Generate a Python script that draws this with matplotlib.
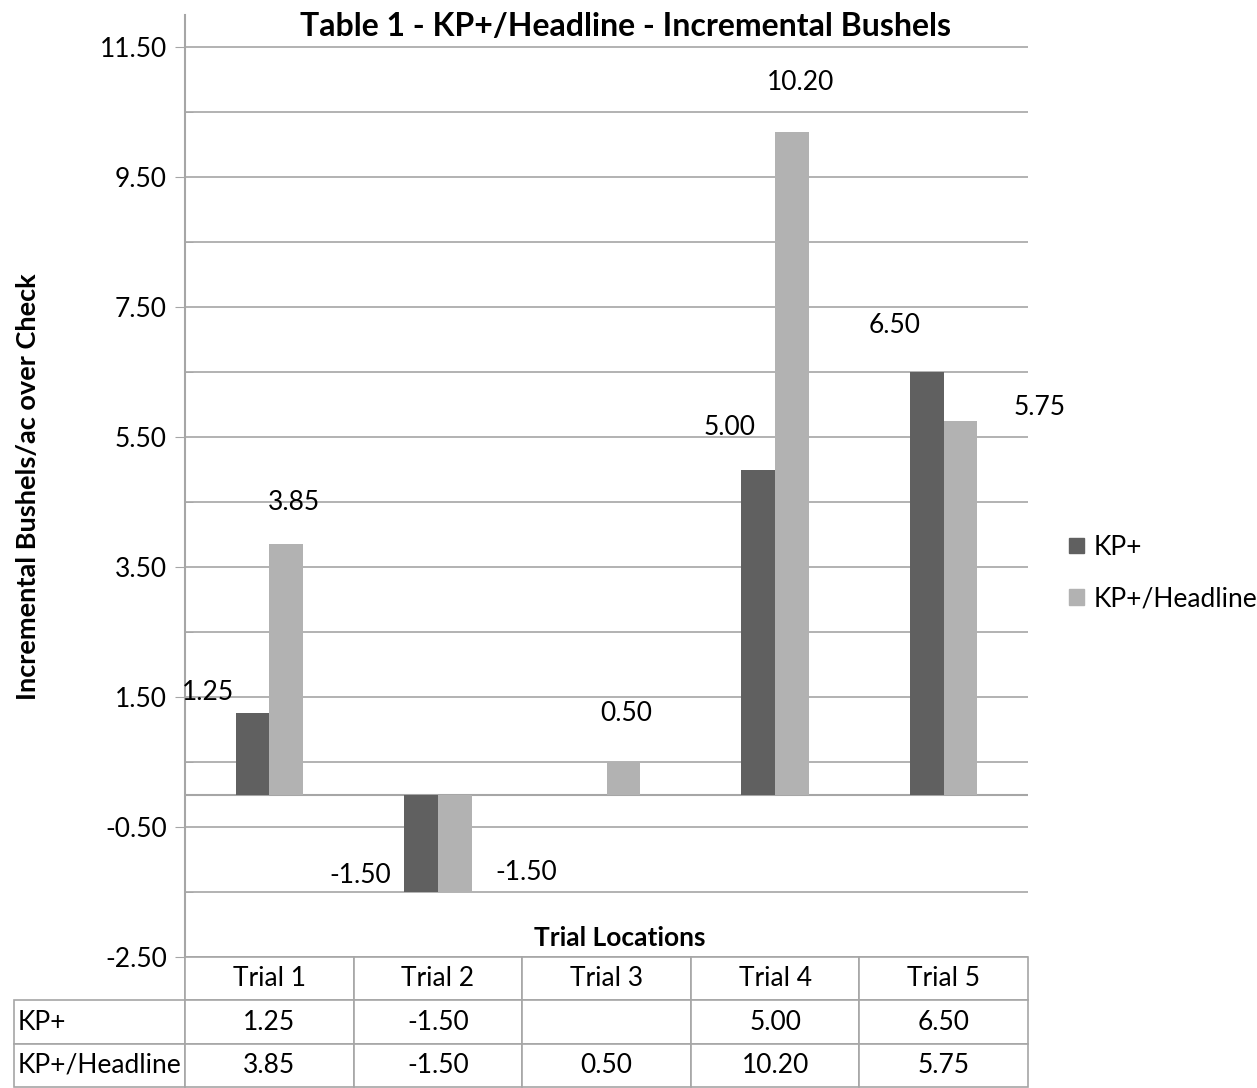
import numpy as np
import matplotlib
matplotlib.use('Agg')
import matplotlib.pyplot as plt
from matplotlib.patches import Patch

### Data ###
#
trials = ['Trial 1', 'Trial 2', 'Trial 3', 'Trial 4', 'Trial 5']
kp = [1.25, -1.50, np.nan, 5.00, 6.50]
kp_headline = [3.85, -1.50, 0.50, 10.20, 5.75]
series_names = ['KP+', 'KP+/Headline']

# label offsets (pixels) mimicking Excel's placement
kp_offsets = [(-44, 21), (-61, 17), (0, 0), (-29, 42), (-32, 47)]
hl_offsets = [(8, 42), (71, 20), (3, 49), (9, 49), (79, 14)]

dark = '#606060'
light = '#b2b2b2'
gridc = '#a6a6a6'
font = 'Lato'
fs = 19

plt.rcParams['font.family'] = [font, 'DejaVu Sans']

W, H = 1257, 1088
fig = plt.figure(figsize=(W/100, H/100), dpi=100)

def fx(px):
    return px/W
def fy(py):
    return 1 - py/H

left, right, top, bot = 185, 1028, 15, 957
ax = fig.add_axes([fx(left), fy(bot), fx(right-left), fy(top)-fy(bot)])

x = np.arange(len(trials))
bw = 0.2
ax.bar(x - bw/2, kp, bw, color=dark, zorder=3)
ax.bar(x + bw/2, kp_headline, bw, color=light, zorder=3)

ax.set_xlim(-0.5, len(trials)-0.5)
ax.set_ylim(-2.5, 12.0)

major = np.arange(-2.5, 11.51, 2.0)
minor = np.arange(-1.5, 11.0, 2.0)
ax.set_yticks(major)
ax.set_yticklabels(['%.2f' % v for v in major], fontsize=fs)
ax.set_yticks(minor, minor=True)
ax.tick_params(axis='y', which='major', length=7, color=gridc, pad=6)
ax.tick_params(axis='y', which='minor', length=6, direction='in', color=gridc)
ax.set_xticks([])

for v in np.arange(-2.5, 11.51, 1.0):
    ax.axhline(v, color=gridc, lw=1.2, zorder=1)
ax.axhline(0, color=gridc, lw=1.5, zorder=2)

for s in ['top', 'right', 'bottom']:
    ax.spines[s].set_visible(False)
ax.spines['left'].set_color(gridc)
ax.spines['left'].set_linewidth(1.5)

# data labels
for i in range(len(trials)):
    for vals, offs, sh in [(kp, kp_offsets, -bw/2), (kp_headline, hl_offsets, bw/2)]:
        v = vals[i]
        if np.isnan(v):
            continue
        ax.annotate('%.2f' % v, xy=(x[i] + sh, v), xytext=offs[i],
                    textcoords='offset pixels', ha='center', va='center',
                    fontsize=fs, zorder=4)

fig.text(fx(28), fy(487), 'Incremental Bushels/ac over Check', rotation=90,
         ha='center', va='center', fontsize=19.5, fontweight='bold')

fig.text(fx(626), fy(27), 'Table 1 - KP+/Headline - Incremental Bushels',
         ha='center', va='center', fontsize=23, fontweight='bold')
fig.text(fx(620), fy(938), 'Trial Locations', ha='center', va='center',
         fontsize=19, fontweight='bold')

handles = [Patch(color=dark), Patch(color=light)]
fig.legend(handles, series_names, loc='center left',
           bbox_to_anchor=(fx(1069), fy(573)), frameon=False, fontsize=fs,
           borderpad=0, borderaxespad=0,
           handlelength=0.55, handleheight=0.55, handletextpad=0.4, labelspacing=1.0)

# data table
tax = fig.add_axes([fx(14), fy(1087), fx(1028-14), fy(957)-fy(1087)])
tax.axis('off')
cell_text = [['KP+'] + ['' if np.isnan(v) else '%.2f' % v for v in kp],
             ['KP+/Headline'] + ['%.2f' % v for v in kp_headline]]
tbl = tax.table(cellText=cell_text, colLabels=[''] + trials, cellLoc='center',
                bbox=[0, 0, 1, 1])
tbl.auto_set_font_size(False)
tbl.set_fontsize(fs)
colw = [171] + [168.6]*5
for (r, c), cell in tbl.get_celld().items():
    cell.set_width(colw[c])
    cell.set_edgecolor(gridc)
    cell.set_linewidth(1.2)
    if c == 0:
        cell.get_text().set_horizontalalignment('left')
        cell._loc = 'left'
        cell.PAD = 0.02
    if r == 0 and c == 0:
        cell.visible_edges = 'R'

fig.savefig('out.png', dpi=100)
